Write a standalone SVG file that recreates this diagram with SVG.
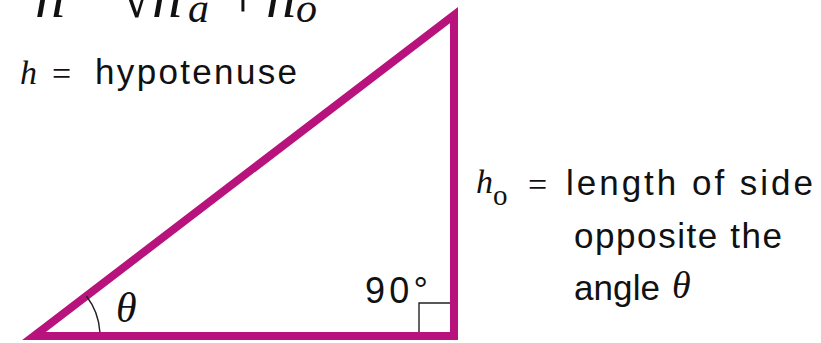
<svg xmlns="http://www.w3.org/2000/svg" width="821" height="343" viewBox="0 0 821 343">
<style>
.side{fill:none;stroke:#B8127C;stroke-width:8;stroke-linejoin:miter;stroke-miterlimit:10}
.thin{fill:none;stroke:#222;stroke-width:1.4}
.sans{font-family:"Liberation Sans",Arial,sans-serif;fill:#111}
.it{font-family:"Liberation Serif","Times New Roman",serif;font-style:italic;fill:#111}
.rm{font-family:"Liberation Serif","Times New Roman",serif;fill:#111}
</style>
<rect width="821" height="343" fill="#fff"/>
<g id="formula">
<text class="it" x="35" y="17" font-size="60">h</text>
<text class="rm" x="76" y="0" font-size="60">=</text>
<text class="rm" x="120" y="17" font-size="60">√</text>
<text class="it" x="152" y="17" font-size="60">h</text>
<text class="it" x="188" y="22" font-size="42">a</text>
<text class="rm" x="203" y="-14" font-size="30">2</text>
<text class="rm" x="226" y="17" font-size="60">+</text>
<text class="it" x="266" y="17" font-size="60">h</text>
<text class="it" x="296" y="22" font-size="42">o</text>
<text class="rm" x="314" y="-14" font-size="30">2</text>
</g>
<g id="triangle">
<polygon class="side" points="34,336 454,336 454,15"/>
<polyline id="right-angle" class="thin" points="419,332 419,303 450,303"/>
<path id="angle-arc" class="thin" d="M 86.4,296 A 66 66 0 0 1 99.9,332"/>
</g>
<g id="angle-labels">
<text class="it" x="116" y="322" font-size="42">θ</text>
<text class="sans" x="365" y="303" font-size="36" textLength="63">90°</text>
</g>
<g id="hypotenuse-label">
<text class="it" x="20" y="84" font-size="34">h</text>
<text class="rm" x="52" y="85" font-size="34">=</text>
<text class="sans" x="95" y="84" font-size="35" textLength="202">hypotenuse</text>
</g>
<g id="opposite-label">
<text class="it" x="476" y="193" font-size="34">h</text>
<text class="rm" x="493" y="205" font-size="29">o</text>
<text class="rm" x="528" y="196" font-size="34">=</text>
<text class="sans" x="566" y="195" font-size="35" textLength="247">length of side</text>
<text class="sans" x="574" y="248" font-size="35" textLength="208">opposite the</text>
<text class="sans" x="574" y="300" font-size="35" textLength="86">angle</text>
<text class="it" x="672" y="298" font-size="38">θ</text>
</g>
</svg>
